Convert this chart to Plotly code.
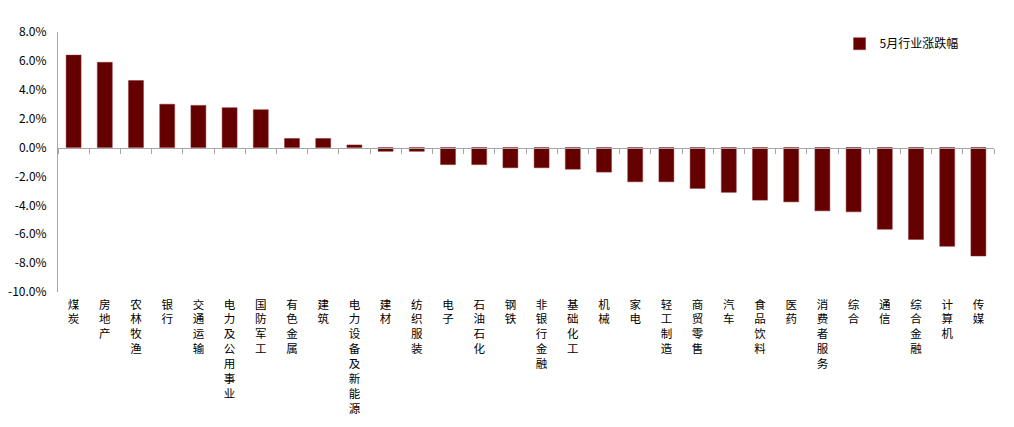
import plotly.graph_objects as go

categories = ["煤炭", "房地产", "农林牧渔", "银行", "交通运输", "电力及公用事业", "国防军工",
              "有色金属", "建筑", "电力设备及新能源", "建材", "纺织服装", "电子", "石油石化",
              "钢铁", "非银行金融", "基础化工", "机械", "家电", "轻工制造", "商贸零售", "汽车",
              "食品饮料", "医药", "消费者服务", "综合", "通信", "综合金融", "计算机", "传媒"]
values = [6.40, 5.90, 4.64, 3.00, 2.92, 2.76, 2.62,
          0.63, 0.63, 0.18, -0.26, -0.26, -1.18, -1.18,
          -1.40, -1.40, -1.50, -1.70, -2.37, -2.37, -2.83, -3.10,
          -3.64, -3.76, -4.38, -4.45, -5.66, -6.36, -6.84, -7.51]
series_name = "5月行业涨跌幅"
y_ticks = [8, 6, 4, 2, 0, -2, -4, -6, -8, -10]
y_ticklabels = ["8.0%", "6.0%", "4.0%", "2.0%", "0.0%", "-2.0%", "-4.0%", "-6.0%", "-8.0%", "-10.0%"]

vertical_labels = ["<br>".join(list(c)) for c in categories]

FONT = "Noto Sans CJK SC, Noto Sans, sans-serif"
ymin, ymax = -10, 8
n = len(categories)

fig = go.Figure()
fig.add_trace(go.Bar(
    x=categories, y=values, name=series_name,
    marker=dict(color="#640000", line=dict(color="#8a3030", width=0.5)),
    width=0.48,
))
fig.add_trace(go.Scatter(
    x=categories, y=[None] * n, xaxis="x2",
    showlegend=False, hoverinfo="skip", mode="lines",
))

fig.update_layout(
    width=1014, height=427,
    margin=dict(l=58, r=20, t=32, b=135),
    paper_bgcolor="white", plot_bgcolor="white",
    font=dict(family=FONT, size=12, color="#000000"),
    showlegend=True,
    legend=dict(x=0.835, y=0.955, xanchor="left", yanchor="middle",
                font=dict(size=12, color="#000000"), bgcolor="rgba(0,0,0,0)",
                itemwidth=30),
    xaxis=dict(
        type="category", tickmode="array", tickvals=categories, ticktext=vertical_labels,
        range=[-0.5, n - 0.5], autorange=False, automargin=False,
        showline=False, ticks="", showgrid=False, zeroline=False,
        tickfont=dict(size=11.5, color="#000000"), tickangle=0,
        ticklabelstandoff=4,
    ),
    xaxis2=dict(
        type="category", matches="x", overlaying="x", anchor="free",
        position=(0 - ymin) / (ymax - ymin), automargin=False,
        showline=True, linecolor="#a6a6a6", linewidth=1,
        ticks="outside", tickson="boundaries", ticklen=5, tickcolor="#a6a6a6",
        showticklabels=False, showgrid=False, zeroline=False,
    ),
    yaxis=dict(
        range=[ymin, ymax], autorange=False, automargin=False,
        tickmode="array", tickvals=y_ticks, ticktext=y_ticklabels,
        showline=True, linecolor="#a6a6a6", linewidth=1, ticks="",
        showgrid=False, zeroline=False,
        tickfont=dict(size=12, color="#000000"),
        ticklabelstandoff=8,
    ),
)

fig.write_html("out.html", config={"displayModeBar": False},
               post_script="document.body.style.margin='0px';")
